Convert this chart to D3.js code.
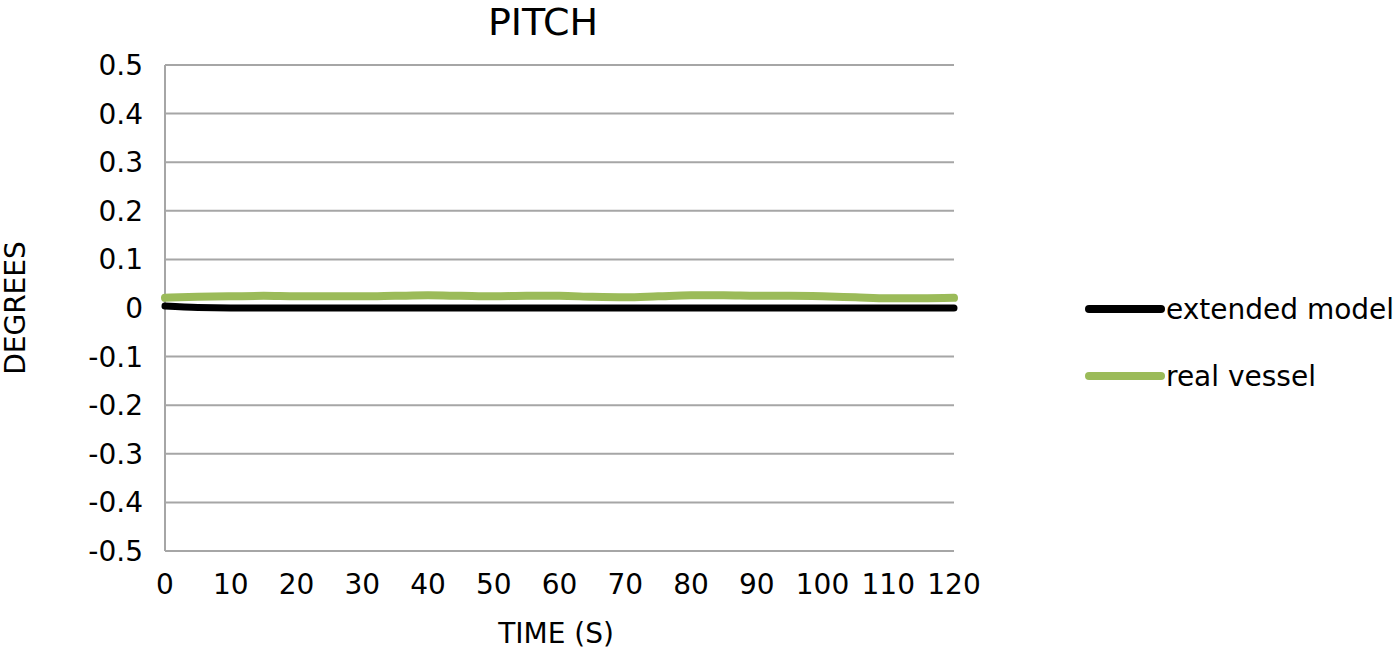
<!DOCTYPE html>
<html>
<head>
<meta charset="utf-8">
<script src="https://cdn.jsdelivr.net/npm/d3@7"></script>
<style>
  body { margin: 0; background: #fff; }
  text { font-family: "DejaVu Sans", sans-serif; fill: #000; }
</style>
</head>
<body>
<div id="viz"></div>
<script>
var width = 1400;
var height = 651;

// data
var time = [0, 5, 10, 15, 20, 25, 30, 35, 40, 45, 50, 55, 60, 65, 70, 75, 80, 85, 90, 95, 100, 105, 110, 115, 120];
var extendedModel = [0.004, 0.001, 0, 0, 0, 0, 0, 0, 0, 0, 0, 0, 0, 0, 0, 0, 0, 0, 0, 0, 0, 0, 0, 0, 0];
var realVessel = [0.021, 0.023, 0.024, 0.025, 0.024, 0.024, 0.024, 0.025, 0.026, 0.025, 0.024, 0.025, 0.025, 0.023, 0.022, 0.024, 0.026, 0.026, 0.025, 0.025, 0.024, 0.022, 0.020, 0.020, 0.021];
var xTicks = [0, 10, 20, 30, 40, 50, 60, 70, 80, 90, 100, 110, 120];
var yTicks = [0.5, 0.4, 0.3, 0.2, 0.1, 0, -0.1, -0.2, -0.3, -0.4, -0.5];
var seriesNames = ["extended model", "real vessel"];
var seriesColors = ["#000000", "#9bbb59"];

var svg = d3.select("#viz").append("svg")
   .attr("width", width)
   .attr("height", height);

var x = d3.scaleLinear().domain([0, 120]).range([165, 954]);
var y = d3.scaleLinear().domain([-0.5, 0.5]).range([551, 65]);

// gridlines
svg.append("g").selectAll("line")
   .data(yTicks)
   .enter().append("line")
   .attr("x1", x(0))
   .attr("x2", x(120))
   .attr("y1", function(d) { return y(d); })
   .attr("y2", function(d) { return y(d); })
   .style("stroke", "#a6a6a6")
   .style("stroke-width", 2);

// left axis line
svg.append("line")
   .attr("x1", x(0)).attr("x2", x(0))
   .attr("y1", y(0.5)).attr("y2", y(-0.5))
   .style("stroke", "#a6a6a6")
   .style("stroke-width", 2);

// y tick labels (plain hyphen for negatives, like the original)
svg.append("g").selectAll("text")
   .data(yTicks)
   .enter().append("text")
   .attr("x", 143)
   .attr("y", function(d) { return y(d); })
   .attr("dy", "0.36em")
   .attr("text-anchor", "end")
   .style("font-size", "28px")
   .text(function(d) { return String(d); });

// x tick labels
svg.append("g").selectAll("text")
   .data(xTicks)
   .enter().append("text")
   .attr("x", function(d) { return x(d); })
   .attr("y", 594)
   .attr("text-anchor", "middle")
   .style("font-size", "28px")
   .text(function(d) { return d; });

// lines
var line = d3.line()
   .x(function(d, i) { return x(time[i]); })
   .y(function(d) { return y(d); })
   .curve(d3.curveMonotoneX);

svg.append("path")
   .datum(realVessel)
   .attr("d", line)
   .style("fill", "none")
   .style("stroke", seriesColors[1])
   .style("stroke-width", 8)
   .style("stroke-linecap", "round");

svg.append("path")
   .datum(extendedModel)
   .attr("d", line)
   .style("fill", "none")
   .style("stroke", seriesColors[0])
   .style("stroke-width", 7)
   .style("stroke-linecap", "round");

// title
svg.append("text")
   .attr("x", 543)
   .attr("y", 35)
   .attr("text-anchor", "middle")
   .style("font-size", "38px")
   .text("PITCH");

// axis titles
svg.append("text")
   .attr("x", 556)
   .attr("y", 643)
   .attr("text-anchor", "middle")
   .style("font-size", "28px")
   .text("TIME (S)");

svg.append("text")
   .attr("transform", "translate(25,308) rotate(-90)")
   .attr("text-anchor", "middle")
   .style("font-size", "28px")
   .text("DEGREES");

// legend
var legend = svg.append("g").selectAll("g")
   .data(seriesNames)
   .enter().append("g")
   .attr("transform", function(d, i) { return "translate(1089," + (309 + i * 67) + ")"; });

legend.append("line")
   .attr("x1", 0).attr("x2", 72)
   .style("stroke", function(d, i) { return seriesColors[i]; })
   .style("stroke-width", 8)
   .style("stroke-linecap", "round");

legend.append("text")
   .attr("x", 77)
   .attr("dy", "0.36em")
   .style("font-size", "28px")
   .text(function(d) { return d; });
</script>
</body>
</html>
